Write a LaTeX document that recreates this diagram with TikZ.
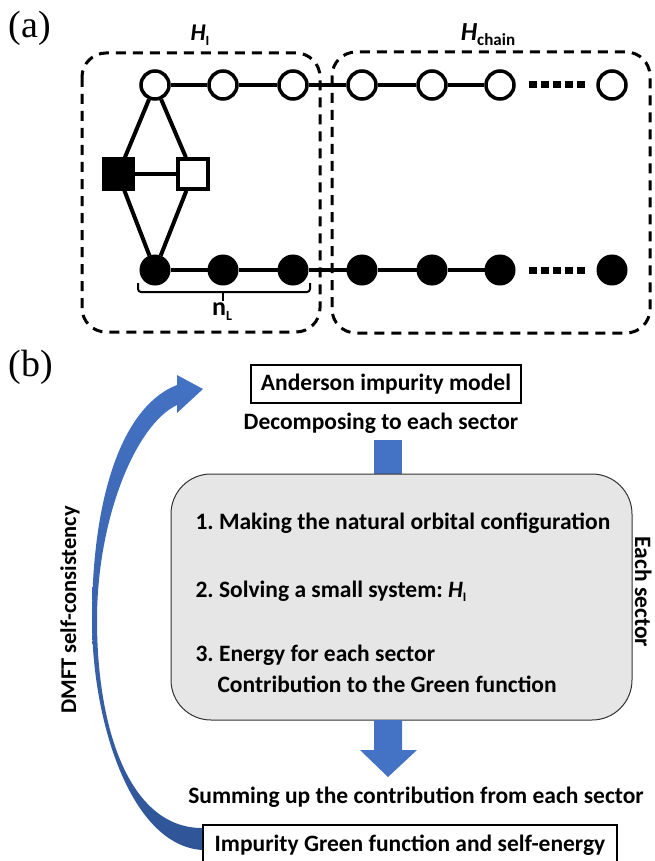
\documentclass[tikz,border=0pt]{standalone}
\usepackage{fontspec}
\setmainfont{Carlito}
\newfontfamily\panelserif{Liberation Serif}
\usetikzlibrary{arrows.meta}
\definecolor{accentblue}{HTML}{4472C4}
\definecolor{deepblue}{HTML}{2F5597}
\definecolor{panelgray}{HTML}{E7E6E6}
\frenchspacing
\begin{document}
\begin{tikzpicture}[x=1pt,y=-1pt,
  font=\fontsize{23.5}{28}\selectfont\bfseries,
  bond/.style={line width=4pt},
  dotbond/.style={line width=7pt,dash pattern=on 8pt off 4pt,shorten <=13pt,shorten >=9pt},
  opensite/.style={circle,draw,line width=3.5pt,fill=white,minimum size=28pt,inner sep=0pt},
  fullsite/.style={circle,draw,fill=black,line width=1pt,minimum size=30pt,inner sep=0pt},
  opensq/.style={rectangle,draw,line width=3.5pt,fill=white,minimum size=30pt,inner sep=0pt},
  fullsq/.style={rectangle,draw,fill=black,line width=1pt,minimum size=32pt,inner sep=0pt},
  region/.style={line width=3pt,dash pattern=on 10pt off 7pt,rounded corners=24pt},
  plainbox/.style={draw,line width=1.2pt,inner sep=0pt},
  tag/.style={font=\fontsize{38}{40}\selectfont\panelserif},
]
\useasboundingbox (0,0) rectangle (654,861);

% ---------------- panel (a): impurity + bath chains ----------------
\node[tag] (taga) at (30,28) {(a)};

\draw[region] (82,53) rectangle (320,332);
\draw[region] (332,52) rectangle (650,333);

\node (hi) at (200,35) {{\fontsize{24}{28}\selectfont\bfseries\itshape H}{\fontsize{14}{16}\selectfont\bfseries\raisebox{-5pt}{I}}};
\node (hchain) at (488,35) {{\fontsize{26}{30}\selectfont\bfseries\itshape H}{\fontsize{17}{20}\selectfont\bfseries\raisebox{-5pt}{chain}}};

% sites of the two chains
\foreach \i/\x in {1/155,2/223,3/293,4/362,5/432,6/500,7/612}{
  \node[opensite] (t\i) at (\x,85) {};
  \node[fullsite] (b\i) at (\x,270) {};
}
% impurity orbitals
\node[fullsq] (sq1) at (118,174) {};
\node[opensq] (sq2) at (193,174) {};

% hoppings
\foreach \i/\j in {1/2,2/3,3/4,4/5,5/6}{
  \draw[bond] (t\i) -- (t\j);
  \draw[bond] (b\i) -- (b\j);
}
\draw[dotbond] (t6) -- (t7);
\draw[dotbond] (b6) -- (b7);
\draw[bond] (t1) -- (sq1);
\draw[bond] (t1) -- (sq2);
\draw[bond] (sq1) -- (b1);
\draw[bond] (sq2) -- (b1);
\draw[bond] (sq1) -- (sq2);

% bracket marking the first n_L sites
\coordinate (brl) at (138,283);
\coordinate (brr) at (310,283);
\coordinate (brm) at (223,292);
\draw[line width=2pt,rounded corners=3pt] (brl) -- (138,292) -- (310,292) -- (brr);
\draw[line width=2pt] (brm) -- ++(0,9);
\node (nl) at (222,312) {{\fontsize{26}{28}\selectfont\bfseries n}{\fontsize{14}{16}\selectfont\bfseries\raisebox{-5pt}{L}}};

% ---------------- panel (b): solver loop ----------------
\node[tag] (tagb) at (31,367) {(b)};

\node[plainbox,minimum width=270pt,minimum height=38pt] (aim) at (386,384) {Anderson impurity model};
\node (dec) at (381,423) {Decomposing to each sector};

\fill[accentblue] (374,440) rectangle (402,475);

\node[draw=black!80,line width=1pt,fill=panelgray,rounded corners=40pt,
      minimum width=461pt,minimum height=246pt] (sector) at (401.5,597) {};
\node[anchor=west] (s1) at (192,523) {1. Making the natural orbital configuration};
\node[anchor=west] (s2) at (192,591) {2. Solving a small system: {\itshape H}{\fontsize{13}{15}\selectfont\raisebox{-4pt}{I}}};
\node[anchor=west] (s3) at (192,655) {3. Energy for each sector};
\node[anchor=west] (s4) at (214,684) {Contribution to the Green function};

\node[rotate=-90,anchor=base,inner sep=0pt] (each) at (635,592) {Each sector};

\fill[accentblue] (374,720) -- (374,750) -- (360,750) -- (388,777) -- (417,750) -- (402,750) -- (402,720) -- cycle;

\node (sum) at (416,797) {Summing up the contribution from each sector};
\node[plainbox,fill=white,minimum width=414pt,minimum height=40pt] (igf) at (410,845) {Impurity Green function and self-energy};

% self-consistency loop arrow
\shade[top color=accentblue,bottom color=deepblue]
  (202,850) .. controls (130,845) and (92,720) .. (92,620)
  .. controls (92,490) and (125,405) .. (177,385)
  -- (177,375) -- (203,389) -- (177,413) -- (177,405)
  .. controls (135,425) and (97,520) .. (97,620)
  .. controls (97,730) and (130,828) .. (202,828) -- cycle;
\node[rotate=90,font=\fontsize{22.5}{26}\selectfont\bfseries] (dmft) at (70,610) {DMFT self-consistency};
\end{tikzpicture}
\end{document}
